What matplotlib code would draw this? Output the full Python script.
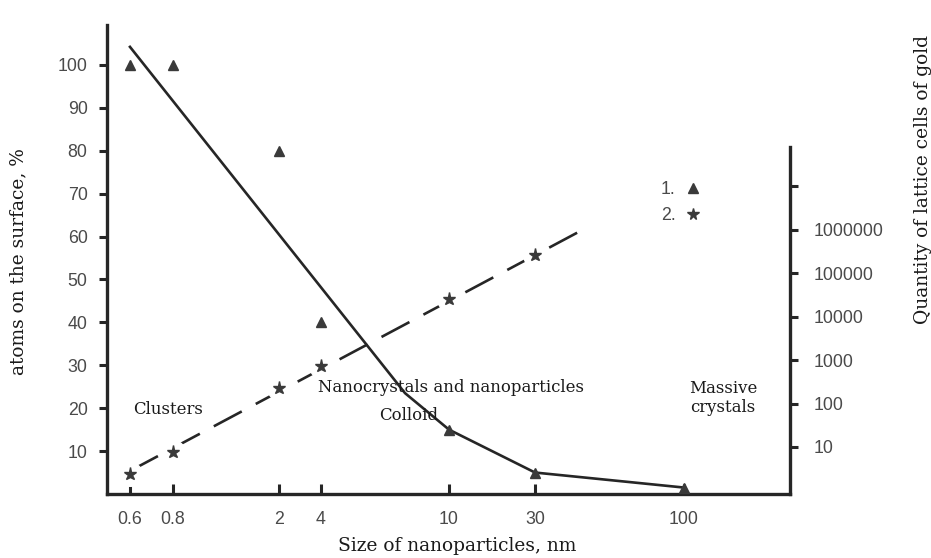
import numpy as np
import matplotlib.pyplot as plt
from matplotlib.lines import Line2D

# particle sizes, nm (x categories) and their tick labels
sizes = [0.6, 0.8, 2, 4, 10, 30, 100]
size_labels = ["0.6", "0.8", "2", "4", "10", "30", "100"]

# series 1: atoms on the surface, %
surface_pct = [100, 100, 80, 40, 15, 5, 1.5]
# solid trend line for series 1
trend1_sizes = [0.6, 7.3, 10, 30, 100]
trend1_pct = [104.2, 23.5, 15, 5, 1.5]

# series 2: quantity of lattice cells of gold (stars)
cells = [2.4, 7.7, 229, 740, 25700, 263000]
# dashed trend line for series 2
trend2_sizes = [0.6, 44]
trend2_cells = [2.8, 1.0e6]

right_ticks = [10, 100, 1000, 10000, 100000, 1000000, 10000000]
right_labels = ["10", "100", "1000", "10000", "100000", "1000000", ""]

# layout: where each size category sits along the (non-uniform) x axis
tick_pos = [130, 173, 279, 321, 449, 535, 684]

INK = "#262626"
TXT = "#4a4a4a"
SERIF = "DejaVu Serif"
SANS = "Liberation Sans"


def pos(x):
    return np.interp(np.log10(x), np.log10(sizes), tick_pos)


def main():
    fig = plt.figure(figsize=(9.31, 5.58), dpi=100)
    ax = fig.add_axes([0.1149, 0.1147, 0.7337, 0.8405])
    ax2 = ax.twinx()

    ax.set_xlim(107, 790)
    ax.set_ylim(0, 109.3)
    ax2.set_yscale("log")
    ax2.set_ylim(10 ** -0.083, 10 ** 10.72)

    # series 1
    ax.plot(pos(trend1_sizes), trend1_pct, color=INK, lw=1.9, zorder=3)
    ax.plot(pos(sizes), surface_pct, ls="none", marker="^", ms=7,
            color="#3a3a3a", zorder=4)

    # series 2 (on the log axis)
    ax2.plot(pos(trend2_sizes), trend2_cells, color=INK, lw=1.9,
             dashes=(12, 6), zorder=3)
    ax2.plot(pos(sizes[:len(cells)]), cells, ls="none", marker="o", ms=17,
             color="white", zorder=4)
    ax2.plot(pos(sizes[:len(cells)]), cells, ls="none", marker="*", ms=9.5,
             color="#3a3a3a", zorder=5)

    # spines
    for a in (ax, ax2):
        a.spines["top"].set_visible(False)
    ax.spines["right"].set_visible(False)
    ax2.spines["left"].set_visible(False)
    ax2.spines["bottom"].set_visible(False)
    for s in ("left", "bottom"):
        ax.spines[s].set_linewidth(2.4)
        ax.spines[s].set_color(INK)
    ax2.spines["right"].set_linewidth(2.4)
    ax2.spines["right"].set_color(INK)
    ax2.spines["right"].set_bounds(10 ** -0.083, 10 ** 7.9)

    # ticks
    ax.set_xticks(tick_pos)
    ax.set_xticklabels(size_labels)
    ax.tick_params(axis="x", direction="in", length=7, width=2.2,
                   color=INK, pad=12, labelsize=12.8, labelcolor=TXT)
    ax.set_yticks(range(10, 101, 10))
    ax.tick_params(axis="y", direction="out", length=6, width=2.2,
                   color=INK, pad=8, labelsize=12.8, labelcolor=TXT)
    ax2.set_yticks(right_ticks)
    ax2.set_yticklabels(right_labels)
    ax2.minorticks_off()
    ax2.tick_params(axis="y", direction="out", length=6, width=2.2,
                    color=INK, pad=11, labelsize=12.8, labelcolor=TXT)
    for lab in ax.get_xticklabels() + ax.get_yticklabels() + ax2.get_yticklabels():
        lab.set_family(SANS)

    # axis titles
    title_kw = dict(family=SERIF, fontsize=13.4, color="#1a1a1a",
                    ha="center", va="center")
    fig.text(457 / 931, 1 - 546 / 558, "Size of nanoparticles, nm", **title_kw)
    fig.text(18 / 931, 1 - 262 / 558, "atoms on the surface, %",
             rotation=90, **title_kw)
    fig.text(923 / 931, 1 - 180 / 558, "Quantity of lattice cells of gold",
             rotation=90, **title_kw)

    # region labels
    region_kw = dict(family=SERIF, fontsize=11.9, color="#1a1a1a",
                     ha="center", va="center")
    fig.text(168 / 931, 1 - 409 / 558, "Clusters", **region_kw)
    fig.text(451 / 931, 1 - 387 / 558, "Nanocrystals and nanoparticles", **region_kw)
    fig.text(409 / 931, 1 - 415 / 558, "Colloid", **region_kw)
    fig.text(723 / 931, 1 - 398 / 558, "Massive\ncrystals",
             linespacing=1.1, multialignment="center", **region_kw)

    # legend
    handles = [
        Line2D([], [], ls="none", marker="^", ms=7, color="#3a3a3a"),
        Line2D([], [], ls="none", marker="*", ms=8.5, color="#3a3a3a"),
    ]
    leg = ax2.legend(handles, ["1.", "2."], markerfirst=False, frameon=False,
                     loc="upper left", bbox_to_anchor=(652 / 931, 1 - 172 / 558),
                     bbox_transform=fig.transFigure, borderpad=0,
                     handlelength=1.0, handletextpad=0.5, labelspacing=0.5,
                     prop={"family": SANS, "size": 12.8})
    for t in leg.get_texts():
        t.set_color(TXT)

    fig.savefig("out.png", dpi=100, facecolor="white")


if __name__ == "__main__":
    main()
